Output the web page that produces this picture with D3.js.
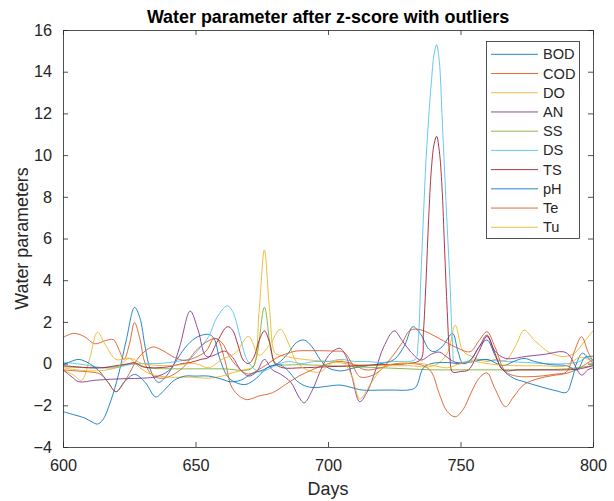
<!DOCTYPE html>
<html>
<head>
<meta charset="utf-8">
<script src="https://cdn.jsdelivr.net/npm/d3@7"></script>
<style>
  body { margin: 0; background: #fff; }
  text { font-family: "Liberation Sans", Arial, sans-serif; fill: #262626; }
</style>
</head>
<body>
<svg id="chart" width="614" height="501"></svg>
<script>
'use strict';

// series values, [day, z-score]
var BOD = [[600,-2.3],[604,-2.45],[608,-2.6],[611,-2.8],[613,-2.9],[615,-2.7],[618,-1.8],[621,-0.5],[624,1.2],[627,2.7],[629,2.2],[631,0.8],[633,-0.3],[636,-0.9],[639,-0.6],[643,0.2],[647,0.9],[651,1.3],[655,1.4],[657,1.2],[659,0.3],[662,-0.6],[665,-0.9],[669,-1.0],[673,-0.7],[677,-0.2],[681,0.0],[685,0.5],[688,1.0],[691,1.13],[694,0.8],[697,0.2],[700,-0.2],[705,-0.35],[710,-0.2],[715,-0.1],[720,0.0],[725,0.2],[729,0.9],[732,1.77],[735,1.4],[738,0.7],[740,0.57],[743,0.8],[747,1.45],[749,0.6],[751,0.0],[754,0.2],[757,0.8],[760,1.13],[763,0.4],[766,-0.3],[770,-0.7],[774,-0.87],[780,-1.1],[786,-1.3],[790,-1.38],[792,-0.8],[794,0.09],[796,0.5],[798,0.3],[800,0.0]];
var COD = [[600,1.25],[604,1.45],[608,1.3],[612,0.95],[616,1.1],[619,1.15],[621,0.7],[623,0.2],[625,0.9],[627,1.96],[629,1.2],[631,0.0],[634,-0.6],[638,-0.7],[642,-0.5],[646,-0.1],[650,0.6],[655,1.1],[658,1.2],[661,0.2],[664,-1.2],[669,-1.72],[674,-1.55],[679,-1.4],[684,-1.0],[689,-0.6],[694,-0.3],[699,-0.05],[704,0.1],[709,0.0],[714,-0.3],[720,-0.2],[726,0.0],[732,0.0],[736,-0.1],[739,-0.4],[742,-1.45],[745,-2.3],[748,-2.55],[751,-2.2],[754,-1.4],[757,-0.7],[760,-0.45],[763,-1.2],[767,-2.07],[770,-1.6],[774,-1.0],[780,-0.7],[786,-0.55],[790,-0.47],[795,-0.2],[800,0.2]];
var DO = [[600,-0.3],[604,-0.55],[607,-0.8],[610,0.2],[613,1.5],[616,0.9],[620,0.2],[625,0.25],[629,-0.2],[633,-0.5],[640,-0.65],[648,-0.65],[655,-0.7],[660,-0.6],[665,-0.4],[670,-0.25],[672,-0.1],[674,2.5],[676,5.45],[678,2.5],[680,0.5],[682,0.4],[688,0.25],[695,0.15],[701,0.1],[710,-0.05],[720,-0.1],[730,-0.1],[740,-0.1],[745,0.5],[748,1.84],[751,0.6],[755,0.3],[760,0.1],[763,0.2],[767,0.15],[771,0.9],[774,1.6],[778,1.1],[784,0.5],[789,0.34],[793,0.5],[797,1.1],[800,1.57]];
var AN = [[600,-0.3],[603,-0.6],[606,-0.87],[612,-0.8],[618,-0.75],[624,-0.72],[630,-0.7],[636,-0.6],[641,-0.2],[644,0.8],[648,2.52],[651,1.6],[654,0.35],[657,0.4],[661,0.6],[664,0.3],[667,-0.3],[670,-0.6],[673,-0.4],[676,0.2],[679,-0.3],[682,-0.5],[686,-0.9],[689,-1.6],[691,-1.88],[694,-1.3],[698,-0.1],[701,0.5],[704.5,0.73],[707,0.3],[709,-0.6],[712,-1.83],[715,-1.3],[718,-0.3],[721,0.8],[725,1.57],[728,1.1],[731,0.6],[735,0.17],[739,0.45],[742,0.55],[745,0.3],[748,0.07],[753,0.1],[757,0.8],[760,1.37],[763,0.6],[767,0.25],[775,0.35],[782,0.45],[788.7,0.57],[791,0.4],[795.7,-0.55],[798,-0.3],[800,-0.2]];
var SS = [[600,-0.15],[610,-0.2],[620,-0.15],[627,0.0],[632,-0.2],[640,-0.25],[650,-0.25],[660,-0.25],[671,-0.25],[673,0.3],[676,2.7],[678.5,0.6],[680,0.05],[682,-0.05],[690,-0.05],[700,-0.1],[710,-0.15],[720,-0.2],[730,-0.25],[740,-0.3],[750,-0.3],[760,-0.3],[770,-0.3],[780,-0.3],[790,-0.25],[800,-0.1]];
var DS = [[600,0.05],[605,0.0],[610,-0.1],[615,-0.2],[620,-0.2],[625,-0.05],[630,0.0],[635,0.0],[640,0.05],[645,0.15],[648,0.25],[652,0.8],[655,1.3],[658,2.2],[662,2.77],[664,2.5],[667,1.2],[669,0.3],[671,-0.1],[674,-0.4],[677,-0.3],[680,-0.1],[685,0.1],[690,0.0],[695,0.1],[700,0.1],[705,0.2],[710,0.1],[715,0.1],[720,0.05],[725,0.1],[730,0.1],[733,0.2],[734,1.0],[735,4.0],[736,7.0],[737,9.8],[738,11.8],[739,13.5],[740,14.8],[741,15.3],[742,14.5],[743,12.0],[744,9.2],[745,6.5],[746,4.0],[747,1.0],[748,0.0],[752,0.1],[757,0.2],[762,0.15],[768,0.1],[775,0.05],[782,0.0],[790,0.0],[795,0.1],[797,0.3],[800,0.2]];
var TS = [[600,-0.1],[605,-0.15],[610,-0.2],[615,-0.2],[620,-0.1],[625,0.0],[627,0.05],[630,-0.15],[635,-0.2],[640,-0.15],[645,0.0],[648,0.05],[652,0.2],[655,0.3],[658,1.0],[662,1.77],[664,1.6],[666,0.9],[668,0.17],[670,0.0],[672,0.3],[674,1.1],[676,1.57],[678,1.0],[680,0.0],[683,-0.2],[690,-0.2],[700,-0.15],[710,-0.1],[720,-0.05],[730,0.0],[735,0.2],[736,1.5],[737,4.0],[738,7.0],[739,9.3],[740,10.5],[741,10.9],[742,10.2],[743,8.5],[744,5.5],[745,2.5],[746,0.3],[747,-0.4],[750,-0.38],[753,-0.3],[757,0.6],[760,1.3],[763,0.5],[766,-0.3],[772,-0.3],[780,-0.3],[790,-0.3],[795,-0.25],[800,-0.1]];
var PH = [[600,-0.05],[603,0.1],[606,0.2],[610,0.0],[614,-0.4],[617,-0.9],[620,-1.35],[623,-0.9],[627,-0.52],[631,-0.9],[635,-1.6],[638,-1.3],[642,-0.8],[646,-0.6],[650,-0.6],[655,-0.6],[660,-0.75],[663,-0.87],[667,-0.8],[671,-0.5],[675.6,-0.3],[679,-0.1],[682,-0.07],[685,-0.35],[688,-0.8],[691,-1.05],[694.4,-1.15],[699,-1.1],[704.5,-1.03],[709,-1.15],[713,-1.27],[720,-1.27],[725,-1.27],[730,-1.27],[733,-1.15],[736,-0.2],[739,0.0],[745,0.05],[750,0.0],[755,0.1],[760,0.2],[766,-0.1],[770,0.1],[774,0.25],[778,0.1],[784,-0.05],[790,-0.1],[794,-0.3],[797,0.3],[800,0.35]];
var TE = [[600,-0.3],[605,-0.35],[610,-0.4],[614,-0.5],[617,-0.9],[620,-1.35],[624,-0.7],[628,0.2],[631,0.6],[634,0.8],[638,0.6],[642,0.3],[646,0.15],[650,0.3],[654,0.6],[657,1.2],[660,1.0],[663,0.3],[667,-0.3],[670,-0.5],[675,-0.2],[681,0.3],[685,0.5],[688,0.6],[695,0.62],[702,0.6],[706,0.55],[709,0.0],[712,-0.63],[716,-0.6],[720,-0.3],[724,0.3],[728,1.0],[731,1.6],[735,1.62],[742,1.2],[748,0.8],[753.6,0.57],[757,1.1],[760,1.53],[763,0.8],[767,-0.39],[771,-0.6],[775,-0.63],[780,-0.6],[786,-0.5],[790,-0.4],[793,0.6],[795.7,1.29],[798,0.6],[800,0.1]];
var TU = [[600,-0.2],[610,-0.35],[620,-0.2],[625,0.25],[630,0.0],[640,-0.1],[650,0.0],[655,-0.2],[660,0.2],[665,0.5],[670,1.3],[674,0.4],[678,0.9],[682,1.65],[685,1.0],[688,0.1],[692,-0.3],[697,-0.4],[701,0.0],[705,0.17],[709,-0.6],[712,-1.7],[715,-1.2],[718,-0.6],[722,-0.1],[728,0.0],[735,0.0],[740,-0.1],[745,-0.2],[750,0.0],[755,0.1],[760,0.0],[770,-0.1],[780,-0.1],[790,-0.1],[795,0.3],[800,0.1]];

var seriesNames = ['BOD','COD','DO','AN','SS','DS','TS','pH','Te','Tu'];
var seriesData = [BOD, COD, DO, AN, SS, DS, TS, PH, TE, TU];
var xTicks = [600, 650, 700, 750, 800];
var yTicks = [-4, -2, 0, 2, 4, 6, 8, 10, 12, 14, 16];

// matlab default colour order, repeats after seven
var colors = ['#0072BD','#D95319','#EDB120','#7E2F8E','#77AC30','#4DBEEE','#A2142F'];

var svg = d3.select('#chart');
var plotL = 63, plotR = 593, plotT = 30, plotB = 447;

var x = d3.scaleLinear().domain([600, 800]).range([plotL, plotR]);
var y = d3.scaleLinear().domain([-4, 16]).range([plotB, plotT]);

svg.append('rect').attr('width', 614).attr('height', 501).attr('fill', '#fff');

svg.append('clipPath').attr('id', 'plotClip')
	.append('rect').attr('x', plotL).attr('y', plotT)
	.attr('width', plotR - plotL).attr('height', plotB - plotT);

var line = d3.line()
	.x(function(d){ return x(d[0]); })
	.y(function(d){ return y(d[1]); })
	.curve(d3.curveCatmullRom.alpha(0.5));

var plot = svg.append('g').attr('clip-path', 'url(#plotClip)');
for(var i=0; i<seriesData.length; i++){
	plot.append('path')
		.attr('d', line(seriesData[i]))
		.attr('fill', 'none')
		.attr('stroke', colors[i % 7])
		.attr('stroke-width', 1)
		.attr('stroke-opacity', 0.85);
}

// axes, box with inward ticks on all four sides
var axisCol = '#262626';
var tickLen = 5;

var xAxis = d3.axisBottom(x).tickValues(xTicks).tickSizeInner(-tickLen).tickSizeOuter(0).tickPadding(12);
var yAxis = d3.axisLeft(y).tickValues(yTicks).tickSizeInner(-tickLen).tickSizeOuter(0).tickPadding(11);

var gx = svg.append('g').attr('transform', 'translate(0,' + plotB + ')').call(xAxis);
var gy = svg.append('g').attr('transform', 'translate(' + plotL + ',0)').call(yAxis);
var gxTop = svg.append('g').attr('transform', 'translate(0,' + plotT + ')')
	.call(d3.axisTop(x).tickValues(xTicks).tickSizeInner(-tickLen).tickSizeOuter(0).tickFormat(''));
var gyRight = svg.append('g').attr('transform', 'translate(' + plotR + ',0)')
	.call(d3.axisRight(y).tickValues(yTicks).tickSizeInner(-tickLen).tickSizeOuter(0).tickFormat(''));

[gx, gy, gxTop, gyRight].forEach(function(g){
	g.select('.domain').attr('stroke', axisCol).attr('stroke-width', 0.8);
	g.selectAll('.tick line').attr('stroke', axisCol).attr('stroke-width', 0.8);
	g.selectAll('.tick text').attr('fill', axisCol)
		.style('font-family', '"Liberation Sans", Arial, sans-serif')
		.style('font-size', '16.3px');
});

// titles
svg.append('text').attr('x', (plotL + plotR) / 2).attr('y', 23)
	.attr('text-anchor', 'middle').style('font-size', '17.9px').style('font-weight', 'bold')
	.style('fill', '#000')
	.text('Water parameter after z-score with outliers');

svg.append('text').attr('x', (plotL + plotR) / 2).attr('y', 495)
	.attr('text-anchor', 'middle').style('font-size', '17.9px')
	.text('Days');

svg.append('text').attr('transform', 'translate(28,' + ((plotT + plotB) / 2) + ') rotate(-90)')
	.attr('text-anchor', 'middle').style('font-size', '17.9px')
	.text('Water parameters');

// legend
var lg = svg.append('g');
lg.append('rect').attr('x', 486.5).attr('y', 41.5).attr('width', 93).attr('height', 197)
	.attr('fill', '#fff').attr('stroke', axisCol).attr('stroke-width', 0.8);

for(var j=0; j<seriesNames.length; j++){
	var ly = 54.3 + j * 19.22;
	lg.append('line').attr('x1', 491).attr('x2', 538).attr('y1', ly).attr('y2', ly)
		.attr('stroke', colors[j % 7]).attr('stroke-width', 1).attr('stroke-opacity', 0.85);
	lg.append('text').attr('x', 543).attr('y', ly + 5)
		.style('font-size', '14.6px').text(seriesNames[j]);
}
</script>
</body>
</html>
